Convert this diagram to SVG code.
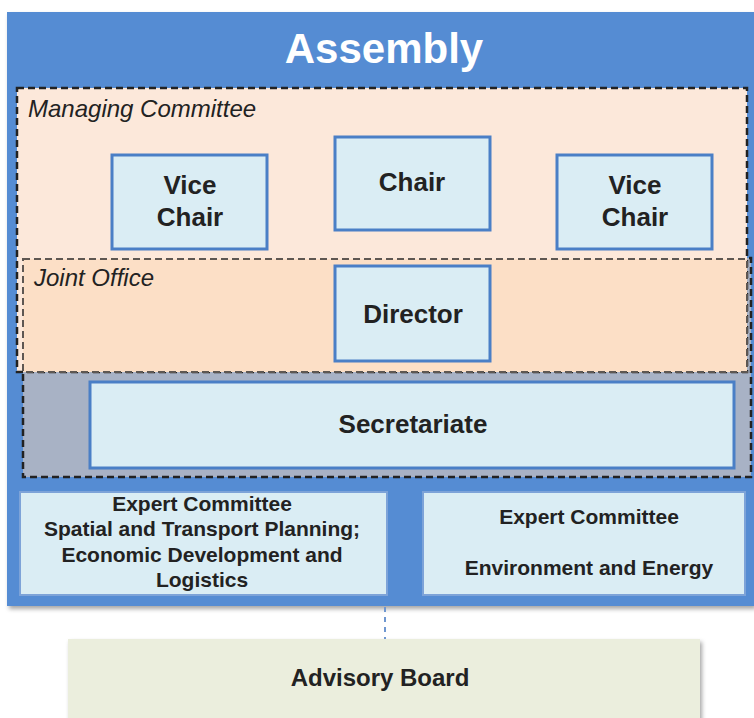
<svg xmlns="http://www.w3.org/2000/svg" width="754" height="718" viewBox="0 0 754 718">
  <defs>
    <filter id="sh" x="-5%" y="-5%" width="115%" height="115%">
      <feDropShadow dx="2" dy="3" stdDeviation="2" flood-color="#000" flood-opacity="0.35"/>
    </filter>
  </defs>
  <style>
    .box{fill:#daedf4;stroke:#4a7fc6;stroke-width:3}
    .t{font-family:"Liberation Sans",Arial,sans-serif;font-weight:bold;fill:#222;text-anchor:middle}
    .it{font-family:"Liberation Sans",Arial,sans-serif;font-style:italic;fill:#222;font-size:24px}
    .dash{stroke:#222;stroke-width:2.5;stroke-dasharray:7,4}
  </style>
  <rect width="754" height="718" fill="#ffffff"/>

  <g id="assembly">
    <rect x="7" y="12" width="747" height="594" fill="#548cd3" filter="url(#sh)"/>
    <text x="384" y="63" class="t" style="fill:#ffffff;font-size:42px">Assembly</text>
  </g>

  <g id="secretariat-zone">
    <rect x="23" y="258" width="728" height="219" fill="#a8b2c5" class="dash"/>
  </g>

  <g id="managing-committee">
    <rect x="17" y="88" width="730" height="284" fill="#fce8da" class="dash"/>
    <text x="28" y="117" class="it">Managing Committee</text>
  </g>

  <g id="joint-office">
    <rect x="23" y="259" width="724" height="113" fill="#fcdfc6" stroke="#5e5752" stroke-width="2" stroke-dasharray="7,4"/>
    <text x="34" y="286" class="it">Joint Office</text>
  </g>

  <g id="vice-chair-left">
    <rect x="112" y="155" width="155" height="94" class="box"/>
    <text x="190" y="194" class="t" font-size="26">Vice</text>
    <text x="190" y="226" class="t" font-size="26">Chair</text>
  </g>

  <g id="chair">
    <rect x="335" y="137" width="155" height="93" class="box"/>
    <text x="412" y="191" class="t" font-size="26">Chair</text>
  </g>

  <g id="vice-chair-right">
    <rect x="557" y="155" width="155" height="94" class="box"/>
    <text x="635" y="194" class="t" font-size="26">Vice</text>
    <text x="635" y="226" class="t" font-size="26">Chair</text>
  </g>

  <g id="director">
    <rect x="335" y="266" width="155" height="95" class="box"/>
    <text x="413" y="323" class="t" font-size="26">Director</text>
  </g>

  <g id="secretariate">
    <rect x="90" y="382" width="644" height="86" class="box"/>
    <text x="413" y="433" class="t" font-size="26">Secretariate</text>
  </g>

  <g id="expert-committee-spatial">
    <rect x="20" y="492" width="367" height="103" class="box" style="stroke:#7da3d8;stroke-width:2"/>
    <text x="202" y="511" class="t" font-size="21">Expert Committee</text>
    <text x="202" y="536" class="t" font-size="21">Spatial and Transport Planning;</text>
    <text x="202" y="562" class="t" font-size="21">Economic Development and</text>
    <text x="202" y="587" class="t" font-size="21">Logistics</text>
  </g>

  <g id="expert-committee-environment">
    <rect x="423" y="492" width="322" height="103" class="box" style="stroke:#7da3d8;stroke-width:2"/>
    <text x="589" y="524" class="t" font-size="21">Expert Committee</text>
    <text x="589" y="575" class="t" font-size="21">Environment and Energy</text>
  </g>

  <g id="advisory-board">
    <rect x="68" y="639" width="632" height="85" fill="#ebeedd" filter="url(#sh)"/>
    <text x="380" y="686" class="t" font-size="24">Advisory Board</text>
  </g>

  <g id="connectors">
    <line x1="385" y1="607" x2="385" y2="639" stroke="#6f97d0" stroke-width="2" stroke-dasharray="5,5"/>
  </g>
</svg>
